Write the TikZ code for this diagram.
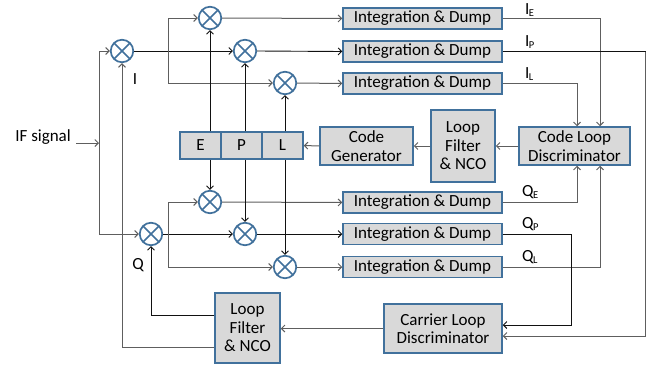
\documentclass[tikz,border=0pt]{standalone}
\usepackage{fontspec}
\setmainfont{Carlito}
\usetikzlibrary{arrows.meta,calc}

\definecolor{boxfill}{HTML}{D9D9D9}
\definecolor{boxedge}{HTML}{41719C}
\definecolor{wiregray}{HTML}{5E5E5E}
\definecolor{wireblack}{HTML}{111111}

% small lowered index letter for the correlator labels
\newcommand{\idx}[1]{\kern-0.5pt\raisebox{-2.5pt}{\fontsize{10.5}{11}\selectfont #1}}

\tikzset{
  blk/.style={draw=boxedge, fill=boxfill, line width=1.5pt, inner sep=0pt,
    align=center, font=\fontsize{17}{18.5}\selectfont},
  mixer/.style={circle, draw=boxedge, fill=white, line width=1.7pt,
    minimum size=22.5pt, inner sep=0pt,
    path picture={\draw[boxedge, line width=1.7pt]
      (path picture bounding box.north west) -- (path picture bounding box.south east)
      (path picture bounding box.north east) -- (path picture bounding box.south west);}},
  wire/.style={draw=wireblack, line width=0.9pt},
  gwire/.style={draw=wiregray, line width=1pt},
  tip/.style={-{Straight Barb[length=3.5pt,width=7pt]}},
  lbl/.style={inner sep=0pt, font=\fontsize{17}{18.5}\selectfont},
}

\begin{document}
\begin{tikzpicture}[x=1pt, y=-1pt]
\useasboundingbox (0,0) rectangle (654,370);

% mixers, in-phase arm
\node[mixer] (mI)  at (122,51) {};
\node[mixer] (mIE) at (210,18) {};
\node[mixer] (mIP) at (245,51) {};
\node[mixer] (mIL) at (285,83) {};
% mixers, quadrature arm
\node[mixer] (mQ)  at (151,234) {};
\node[mixer] (mQE) at (210,202) {};
\node[mixer] (mQP) at (245,234) {};
\node[mixer] (mQL) at (285,267) {};

% integrate-and-dump blocks
\foreach \n/\y in {idIE/18.5, idIP/51.5, idIL/83.5, idQE/202.5, idQP/234, idQL/267}
  \node[blk, minimum width=159pt, minimum height=21pt] (\n) at (422.5,\y) {Integration \& Dump};

% early / prompt / late replica register
\node[blk, minimum width=41pt, minimum height=27pt] (cE) at (200.5,145.5) {E};
\node[blk, minimum width=41pt, minimum height=27pt] (cP) at (241.5,145.5) {P};
\node[blk, minimum width=41pt, minimum height=27pt] (cL) at (282.5,145.5) {L};

% code loop
\node[blk, minimum width=93pt, minimum height=38pt] (cg) at (366.5,146) {Code\\Generator};
\node[blk, minimum width=64pt, minimum height=72pt] (lfc) at (463,146) {Loop\\Filter\\\& NCO};
\node[blk, minimum width=111pt, minimum height=38pt] (cld) at (574.5,146) {Code Loop\\Discriminator};

% carrier loop
\node[blk, minimum width=118pt, minimum height=49pt] (cad) at (443,328.5) {Carrier Loop\\Discriminator};
\node[blk, minimum width=65pt, minimum height=70pt] (lfq) at (247.5,328) {Loop\\Filter\\\& NCO};

% labels
\node[lbl, anchor=east] (ifs) at (71,137) {IF signal};
\node[lbl] (lI) at (135,79) {I};
\node[lbl] (lQ) at (138,265) {Q};
\node[lbl, anchor=base west] (lIE) at (525,14)  {I\idx{E}};
\node[lbl, anchor=base west] (lIP) at (525,46)  {I\idx{P}};
\node[lbl, anchor=base west] (lIL) at (525,78)  {I\idx{L}};
\node[lbl, anchor=base west] (lQE) at (522,196) {Q\idx{E}};
\node[lbl, anchor=base west] (lQP) at (522,228) {Q\idx{P}};
\node[lbl, anchor=base west] (lQL) at (522,261) {Q\idx{L}};

% junction points
\coordinate (ifa) at (76,143);
\coordinate (ifb) at (99,143);
\coordinate (sI) at (99,51);
\coordinate (sQ) at (99,234);
\coordinate (bIt) at (168,18);
\coordinate (bIb) at (168,83);
\coordinate (bQt) at (168,202);
\coordinate (bQb) at (168,267);
\coordinate (ipC) at (645,336);
\coordinate (qpC) at (571,325);

% IF input split
\draw[gwire, tip] (ifa) -- (ifb);
\draw[gwire] (sI) -- (sQ);
\draw[gwire, tip] (sI) -- (mI.west);
\draw[gwire, tip] (sQ) -- (mQ.west);

% in-phase fan-out
\draw[wire, tip] (mI.east) -- (mIP.west);
\draw[gwire] (bIt) -- (bIb);
\draw[gwire, tip] (bIt) -- (mIE.west);
\draw[gwire, tip] (bIb) -- (mIL.west);

% quadrature fan-out
\draw[wire, tip] (mQ.east) -- (mQP.west);
\draw[gwire] (bQt) -- (bQb);
\draw[gwire, tip] (bQt) -- (mQE.west);
\draw[gwire, tip] (bQb) -- (mQL.west);

% mixers into integrate-and-dump
\draw[gwire, tip] (mIE.east) -- (idIE.west);
\draw[wire, tip]  (mIP.east) -- (idIP.west);
\draw[gwire, tip] (mIL.east) -- (idIL.west);
\draw[gwire, tip] (mQE.east) -- (idQE.west);
\draw[wire, tip]  (mQP.east) -- (idQP.west);
\draw[gwire, tip] (mQL.east) -- (idQL.west);

% replica codes to the mixers
\draw[wire, tip] (mIE |- cE.north) -- (mIE.south);
\draw[wire, tip] (mIP |- cP.north) -- (mIP.south);
\draw[wire, tip] (mIL |- cL.north) -- (mIL.south);
\draw[wire, tip] (mQE |- cE.south) -- (mQE.north);
\draw[wire, tip] (mQP |- cP.south) -- (mQP.north);
\draw[wire, tip] (mQL |- cL.south) -- (mQL.north);

% correlator outputs to the code loop discriminator
\draw[gwire, tip] (idIE.east) -| ($(cld.north)+(25.5,0)$);
\draw[gwire, tip] (idIL.east) -| ($(cld.north)+(2.5,0)$);
\draw[gwire, tip] (idQE.east) -| ($(cld.south)+(2.5,0)$);
\draw[gwire, tip] (idQL.east) -| ($(cld.south)+(25.5,0)$);

% prompt outputs to the carrier loop discriminator
\draw[wire] (idIP.east) -| (ipC);
\draw[gwire, tip] (ipC |- idIP.east) -- (ipC) -- (cad.east |- ipC);
\draw[wire, tip] (idQP.east) -| (qpC) -- (cad.east |- qpC);

% code loop chain
\draw[gwire, tip] (cld.west) -- (lfc.east);
\draw[gwire, tip] (lfc.west) -- (cg.east);
\draw[gwire, tip] (cg.west) -- (cL.east);

% carrier loop chain
\draw[gwire, tip] (cad.west) -- (cad.west -| lfq.east);
\draw[wire, tip] ($(lfq.west)+(0,-13)$) -| (mQ.south);
\draw[gwire, tip] ($(lfq.west)+(0,19)$) -| (mI.south);
\end{tikzpicture}
\end{document}
